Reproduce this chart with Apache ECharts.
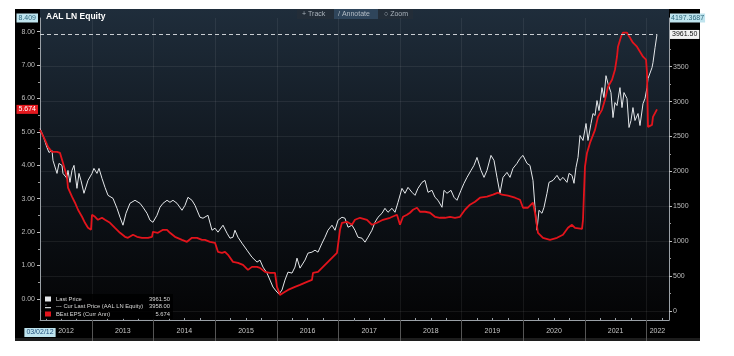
<!DOCTYPE html>
<html><head><meta charset="utf-8">
<script src="https://cdn.jsdelivr.net/npm/echarts@6/dist/echarts.min.js"></script>
<style>html,body{margin:0;padding:0;background:#fff;}#c{width:734px;height:356px;}</style>
</head><body><div id="c"></div>
<script>
// ---- data (decimal year, value) ----
const lastPrice = [
[2012.156,2614],[2012.205,2514],[2012.269,2343],[2012.302,2271],[2012.351,2300],[2012.367,2157],[2012.432,1971],[2012.464,2114],[2012.513,2086],[2012.529,1971],
[2012.594,1900],[2012.610,2014],[2012.643,1843],[2012.675,2014],[2012.708,2086],[2012.756,1757],[2012.789,1971],[2012.821,1871],[2012.870,1686],[2012.935,1871],
[2013.000,1971],[2013.032,2043],[2013.081,1971],[2013.114,2043],[2013.162,1900],[2013.211,1771],[2013.260,1657],[2013.341,1614],[2013.406,1471],[2013.455,1343],
[2013.503,1229],[2013.552,1400],[2013.617,1543],[2013.698,1586],[2013.779,1543],[2013.828,1486],[2013.893,1400],[2013.942,1300],[2013.990,1271],[2014.055,1371],
[2014.104,1486],[2014.153,1543],[2014.218,1586],[2014.266,1557],[2014.315,1586],[2014.380,1543],[2014.461,1443],[2014.510,1514],[2014.558,1629],[2014.623,1586],
[2014.672,1514],[2014.753,1343],[2014.802,1329],[2014.834,1343],[2014.883,1371],[2014.948,1157],[2014.997,1186],[2015.045,1129],[2015.127,1229],[2015.192,1114],
[2015.240,1043],[2015.289,1057],[2015.321,1157],[2015.370,1057],[2015.435,971],[2015.516,871],[2015.597,771],[2015.679,700],[2015.727,729],[2015.776,629],
[2015.841,543],[2015.890,443],[2015.938,343],[2016.003,271],[2016.036,243],[2016.084,300],[2016.133,443],[2016.182,557],[2016.247,543],[2016.295,629],
[2016.328,757],[2016.377,614],[2016.458,729],[2016.506,829],[2016.571,843],[2016.620,871],[2016.669,843],[2016.734,971],[2016.782,1057],[2016.831,1157],
[2016.896,1229],[2016.945,1157],[2016.994,1300],[2017.058,1343],[2017.107,1329],[2017.156,1200],[2017.221,1229],[2017.269,1157],[2017.318,1057],[2017.383,1043],
[2017.432,986],[2017.481,1057],[2017.545,1157],[2017.594,1271],[2017.643,1343],[2017.708,1400],[2017.756,1471],[2017.805,1414],[2017.870,1471],[2017.919,1414],
[2017.968,1557],[2018.032,1757],[2018.081,1686],[2018.130,1771],[2018.195,1700],[2018.244,1657],[2018.292,1757],[2018.357,1843],[2018.406,1871],[2018.455,1700],
[2018.519,1729],[2018.568,1629],[2018.617,1586],[2018.682,1486],[2018.714,1729],[2018.763,1686],[2018.828,1729],[2018.877,1629],[2018.925,1586],[2018.990,1729],
[2019.039,1829],[2019.088,1914],[2019.153,2014],[2019.201,2086],[2019.250,2200],[2019.315,2014],[2019.364,1914],[2019.412,2014],[2019.477,2229],[2019.526,2157],
[2019.575,1914],[2019.623,1686],[2019.672,1914],[2019.737,1986],[2019.786,1914],[2019.834,2043],[2019.899,2114],[2019.948,2186],[2019.997,2229],[2020.062,2114],
[2020.110,2086],[2020.159,1871],[2020.192,1486],[2020.224,1157],[2020.256,1443],[2020.305,1400],[2020.338,1486],[2020.386,1686],[2020.419,1843],[2020.484,1871],
[2020.549,1943],[2020.597,1871],[2020.646,1914],[2020.711,1843],[2020.744,1971],[2020.792,1943],[2020.825,1829],[2020.857,2057],[2020.890,2200],[2020.922,2514],
[2020.971,2443],[2021.020,2686],[2021.052,2443],[2021.101,2686],[2021.133,2829],[2021.166,2800],[2021.198,3014],[2021.231,2871],[2021.279,3200],[2021.312,3057],
[2021.344,3371],[2021.377,3257],[2021.425,3129],[2021.458,2771],[2021.490,2986],[2021.523,2943],[2021.571,3200],[2021.604,2914],[2021.636,3129],[2021.685,3043],
[2021.718,2629],[2021.750,2729],[2021.782,2914],[2021.815,2729],[2021.864,2829],[2021.896,2657],[2021.945,2971],[2021.977,3043],[2022.010,3200],[2022.026,3329],
[2022.058,3343],[2022.091,3486],[2022.107,3557],[2022.140,3771],[2022.172,3961.5]
];
const bestEps = [
[2012.156,5.06],[2012.237,4.76],[2012.286,4.55],[2012.351,4.40],[2012.432,4.40],[2012.481,4.37],[2012.529,4.07],[2012.594,3.66],[2012.610,3.33],[2012.675,3.06],
[2012.724,2.88],[2012.773,2.67],[2012.838,2.46],[2012.886,2.28],[2012.935,2.13],[2012.984,2.07],[2013.000,2.52],[2013.049,2.46],[2013.097,2.37],[2013.162,2.43],
[2013.211,2.37],[2013.292,2.28],[2013.373,2.13],[2013.455,1.98],[2013.536,1.86],[2013.584,1.83],[2013.666,1.92],[2013.731,1.86],[2013.812,1.83],[2013.909,1.83],
[2013.974,1.86],[2013.990,2.01],[2014.071,1.98],[2014.153,2.07],[2014.218,2.07],[2014.266,1.98],[2014.347,1.86],[2014.461,1.77],[2014.542,1.71],[2014.623,1.83],
[2014.705,1.83],[2014.786,1.77],[2014.834,1.77],[2014.916,1.71],[2014.997,1.68],[2015.045,1.41],[2015.110,1.38],[2015.159,1.41],[2015.208,1.32],[2015.289,1.11],
[2015.370,1.08],[2015.451,1.02],[2015.532,0.87],[2015.597,0.96],[2015.679,0.96],[2015.727,0.93],[2015.808,0.81],[2015.890,0.78],[2015.971,0.78],[2016.003,0.36],
[2016.052,0.12],[2016.101,0.18],[2016.182,0.27],[2016.295,0.36],[2016.377,0.42],[2016.490,0.51],[2016.571,0.57],[2016.588,0.78],[2016.669,0.81],[2016.750,0.96],
[2016.831,1.11],[2016.912,1.26],[2016.977,1.38],[2017.026,2.07],[2017.058,2.28],[2017.140,2.31],[2017.221,2.22],[2017.269,2.37],[2017.351,2.43],[2017.464,2.37],
[2017.545,2.22],[2017.627,2.28],[2017.724,2.37],[2017.838,2.43],[2017.951,2.52],[2018.000,2.22],[2018.049,2.46],[2018.114,2.52],[2018.162,2.58],[2018.211,2.67],
[2018.276,2.73],[2018.325,2.61],[2018.406,2.61],[2018.487,2.58],[2018.568,2.46],[2018.649,2.43],[2018.731,2.43],[2018.812,2.46],[2018.893,2.43],[2018.974,2.46],
[2019.055,2.67],[2019.136,2.82],[2019.218,2.91],[2019.299,3.03],[2019.412,3.06],[2019.510,3.12],[2019.591,3.18],[2019.656,3.12],[2019.753,3.09],[2019.867,3.03],
[2019.948,2.97],[2019.997,2.73],[2020.078,2.73],[2020.159,2.88],[2020.192,2.58],[2020.240,1.98],[2020.321,1.83],[2020.435,1.77],[2020.549,1.83],[2020.646,1.92],
[2020.727,2.13],[2020.792,2.22],[2020.841,2.13],[2020.955,2.10],[2020.971,2.37],[2020.987,3.18],[2021.003,3.96],[2021.036,4.37],[2021.084,4.67],[2021.166,5.06],
[2021.214,5.45],[2021.279,5.66],[2021.328,5.96],[2021.377,6.35],[2021.442,6.56],[2021.490,6.86],[2021.523,7.25],[2021.539,7.55],[2021.588,7.85],[2021.620,7.97],
[2021.685,7.97],[2021.734,7.82],[2021.782,7.67],[2021.847,7.55],[2021.896,7.40],[2021.945,7.25],[2021.994,7.16],[2022.010,6.77],[2022.018,5.96],[2022.026,5.15],
[2022.091,5.21],[2022.107,5.45],[2022.172,5.674]
];
// ---- axes / labels ----
const xRange = [2012.156, 2022.367];
const epsRange = [-0.63, 8.409];
const priceRange = [-129, 4197.3687];
const yearBoundaries = [2013,2014,2015,2016,2017,2018,2019,2020,2021,2022];
const yearLabelPos = [2012.578,2013.5,2014.5,2015.5,2016.5,2017.5,2018.5,2019.5,2020.5,2021.5,2022.18];
const yearLabelText = ['2012','2013','2014','2015','2016','2017','2018','2019','2020','2021','2022'];
const startDateLabel = '03/02/12';
const epsTicks = [0,1,2,3,4,5,6,7,8];
const epsMinorTicks = [0.5,1.5,2.5,3.5,4.5,5.5,6.5,7.5];
const priceTicks = [0,500,1000,1500,2000,2500,3000,3500];
const priceMinorTicks = [250,750,1250,1750,2250,2750,3250,3750];
const quarterTicks = [];
for (let y = 2012; y <= 2022; y++) { [0.25,0.5,0.75].forEach(q => { const v = y + q; if (v > xRange[0] && v < xRange[1]) quarterTicks.push(v); }); }
const currentPrice = 3961.50;
const curLastPrice = 3958.00;
const currentEps = 5.674;
const seriesNames = ['Last Price', 'Cur Last Price (AAL LN Equity)', 'BEst EPS (Curr Ann)'];
const legendValues = ['3961.50', '3958.00', '5.674'];

const FONT = 'Liberation Sans, Arial, sans-serif';
const near = (a, b) => Math.abs(a - b) < 1e-6;

const chart = echarts.init(document.getElementById('c'), null, {renderer: 'canvas'});
chart.setOption({
  animation: false,
  textStyle: {fontFamily: FONT},
  graphic: [
    {type: 'rect', z: -100, shape: {x: 15, y: 9, width: 685, height: 332}, style: {fill: '#000'}},
    {type: 'rect', z: -99, shape: {x: 15, y: 338, width: 685, height: 3}, style: {fill: '#1c1c1c'}},
    {type: 'rect', z: -98, shape: {x: 40, y: 9, width: 629, height: 311},
     style: {fill: {type: 'linear', x: 0, y: 0, x2: 0, y2: 1, colorStops: [
       {offset: 0, color: '#1f2d3b'}, {offset: 0.45, color: '#111820'}, {offset: 1, color: '#040405'}]}}},
    {type: 'group', x: 297, y: 9, z: 50, children: [
      {type: 'rect', shape: {x: 0, y: 0, width: 116, height: 10}, style: {fill: '#232d38'}},
      {type: 'rect', shape: {x: 37, y: 0, width: 44, height: 10}, style: {fill: '#2f455b'}},
      {type: 'text', x: 5, y: 5, style: {text: '+ Track', fill: '#a9b2bb', font: '7px ' + FONT, verticalAlign: 'middle'}},
      {type: 'text', x: 41, y: 5, style: {text: '/ Annotate', fill: '#b4bdc6', font: '7px ' + FONT, verticalAlign: 'middle'}},
      {type: 'text', x: 87, y: 5, style: {text: '○ Zoom', fill: '#a9b2bb', font: '7px ' + FONT, verticalAlign: 'middle'}}
    ]}
  ],
  title: {text: 'AAL LN Equity', left: 46, top: 12, padding: 0,
    textStyle: {color: '#ffffff', fontSize: 8.5, fontWeight: 'bold', fontFamily: FONT}},
  legend: {
    left: 42, top: 294, orient: 'vertical', selectedMode: false,
    itemWidth: 6, itemHeight: 5, itemGap: 1.5, padding: [2, 3, 2, 3],
    backgroundColor: 'rgba(0,0,0,0.85)',
    data: [
      {name: seriesNames[0], icon: 'rect'},
      {name: seriesNames[1], icon: 'path://M0,0h3v1h-3z M0,4h10v2h-10z'},
      {name: seriesNames[2], icon: 'rect'}
    ],
    formatter: name => {
      const i = seriesNames.indexOf(name);
      const pre = i === 1 ? '--- ' : '';
      return '{n|' + pre + name + '}{v|' + legendValues[i] + '}';
    },
    textStyle: {color: '#d8d8d8', fontSize: 5.8, lineHeight: 6,
      rich: {n: {width: 94, fontSize: 5.8, color: '#d8d8d8'}, v: {width: 20, align: 'right', fontSize: 5.8, color: '#d8d8d8'}}}
  },
  grid: {left: 40, right: 65, top: 18, bottom: 36},
  xAxis: [
    {type: 'value', min: xRange[0], max: xRange[1], position: 'bottom',
     axisLine: {show: true, onZero: false, lineStyle: {color: '#9aa0a6', width: 1}},
     axisTick: {show: true, customValues: yearBoundaries, length: 21, lineStyle: {color: '#555'}},
     axisLabel: {customValues: [xRange[0]].concat(yearLabelPos), color: '#c6c6c6', fontSize: 7, margin: 8,
       formatter: v => {
         if (near(v, xRange[0])) return '{d|' + startDateLabel + '}';
         const i = yearLabelPos.findIndex(p => near(p, v));
         return i >= 0 ? yearLabelText[i] : '';
       },
       rich: {d: {backgroundColor: '#bfe4ee', color: '#1f4d7a', padding: [1, 2], fontSize: 7}}},
     splitLine: {show: true, lineStyle: {color: 'rgba(255,255,255,0.07)'}}},
    {type: 'value', min: xRange[0], max: xRange[1], position: 'bottom',
     axisLine: {show: false, onZero: false},
     axisTick: {show: true, inside: true, customValues: quarterTicks, length: 2, lineStyle: {color: '#9aa0a6'}},
     axisLabel: {show: false}, splitLine: {show: false}}
  ],
  yAxis: [
    {type: 'value', min: epsRange[0], max: epsRange[1], position: 'left',
     axisLine: {show: true, onZero: false, lineStyle: {color: '#9aa0a6'}},
     axisTick: {show: true, customValues: epsTicks, length: 3, lineStyle: {color: '#c0c0c0'}},
     axisLabel: {customValues: epsTicks, formatter: v => v.toFixed(2), color: '#bdbdbd', fontSize: 7, margin: 5},
     splitLine: {show: false}},
    {type: 'value', min: priceRange[0], max: priceRange[1], position: 'right',
     axisLine: {show: true, onZero: false, lineStyle: {color: '#9aa0a6'}},
     axisTick: {show: true, customValues: priceTicks, length: 3, lineStyle: {color: '#c0c0c0'}},
     axisLabel: {customValues: priceTicks, formatter: v => String(v), color: '#bdbdbd', fontSize: 7, margin: 4},
     splitLine: {show: true, lineStyle: {color: 'rgba(255,255,255,0.07)'}}},
    {type: 'value', min: epsRange[0], max: epsRange[1], position: 'left',
     axisLine: {show: false, onZero: false},
     axisTick: {show: true, customValues: epsMinorTicks, length: 2, lineStyle: {color: '#9a9a9a'}},
     axisLabel: {customValues: [currentEps, epsRange[1]], margin: 2, fontSize: 7,
       formatter: v => near(v, currentEps) ? '{r|' + currentEps.toFixed(3) + '}' : '{c|' + epsRange[1].toFixed(3) + '}',
       rich: {r: {backgroundColor: '#e3191f', color: '#ffffff', padding: [1, 2], fontSize: 7},
              c: {backgroundColor: '#bfe4ee', color: '#2a6478', padding: [1, 2], fontSize: 7}}},
     splitLine: {show: false}},
    {type: 'value', min: priceRange[0], max: priceRange[1], position: 'right',
     axisLine: {show: false, onZero: false},
     axisTick: {show: true, customValues: priceMinorTicks, length: 2, lineStyle: {color: '#9a9a9a'}},
     axisLabel: {customValues: [currentPrice, priceRange[1]], margin: 1, fontSize: 7,
       formatter: v => near(v, currentPrice) ? '{w|' + currentPrice.toFixed(2) + '}' : '{c|' + String(priceRange[1]) + '}',
       rich: {w: {backgroundColor: '#f2f2f2', color: '#111', padding: [1, 2], fontSize: 7},
              c: {backgroundColor: '#bfe4ee', color: '#2a6478', padding: [1, 1], fontSize: 7}}},
     splitLine: {show: false}}
  ],
  series: [
    {name: seriesNames[0], type: 'line', xAxisIndex: 0, yAxisIndex: 1, data: lastPrice,
     showSymbol: false, symbol: 'none', color: '#e4e7ea', lineStyle: {width: 1, color: '#e4e7ea'}, z: 3,
     markLine: {silent: true, symbol: 'none', label: {show: false},
       lineStyle: {type: [4, 3], color: '#c9cdd2', width: 1},
       data: [[{coord: [xRange[0], currentPrice]}, {coord: [lastPrice[lastPrice.length - 1][0], currentPrice]}]]}},
    {name: seriesNames[1], type: 'line', xAxisIndex: 0, yAxisIndex: 1, data: [], color: '#d0d4d8'},
    {name: seriesNames[2], type: 'line', xAxisIndex: 0, yAxisIndex: 0, data: bestEps,
     showSymbol: false, symbol: 'none', color: '#e3141c', lineStyle: {width: 1.8, color: '#e3141c'}, z: 4}
  ]
});
</script></body></html>
